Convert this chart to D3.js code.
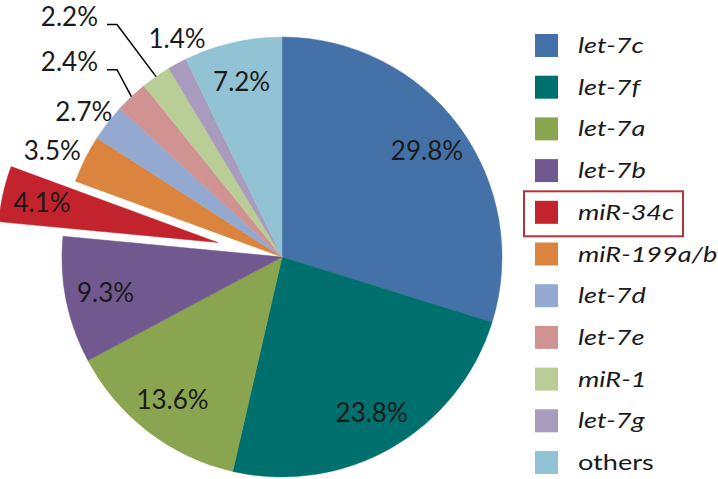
<!DOCTYPE html>
<html>
<head>
<meta charset="utf-8">
<script src="https://cdn.jsdelivr.net/npm/d3@7"></script>
<style>
  body { margin: 0; background: #fff; }
  svg { display: block; }
  text { font-family: Lato, "Open Sans", sans-serif; fill: #1a1a1a; }
</style>
</head>
<body>
<div id="chart"></div>
<script>
// miRNA shares (percent), clockwise from 12 o'clock
var categories = ["let-7c", "let-7f", "let-7a", "let-7b", "miR-34c", "miR-199a/b",
                  "let-7d", "let-7e", "miR-1", "let-7g", "others"];
var percents = [29.8, 23.8, 13.6, 9.3, 4.1, 3.5, 2.7, 2.4, 2.2, 1.4, 7.2];
var colors = ["#4472a8", "#00706f", "#8aa54f", "#71588f", "#c3232c", "#db843d",
              "#93a9cf", "#d19392", "#b9cd96", "#a99bbd", "#92c3d4"];
var exploded = "miR-34c";   // pulled-out slice, also boxed in the legend
var insideLabels = ["let-7c", "let-7f", "let-7a", "let-7b", "miR-34c", "others"];
var leaderLabels = ["let-7e", "miR-1"];

var width = 718, height = 479;
var cx = 282, cy = 257, R = 220;
var explodeBy = 66;

var data = categories.map(function(c, i){
    return {name: c, value: percents[i], color: colors[i]};
});

var svg = d3.select('#chart').append('svg')
    .attr('width', width)
    .attr('height', height);

var g = svg.append('g').attr('transform', 'translate(' + cx + ',' + cy + ')');

var pie = d3.pie().sort(null).value(d => d.value);
var arcs = pie(data);

var arc = d3.arc().innerRadius(0).outerRadius(R);
var labelArc = d3.arc().innerRadius(180).outerRadius(180);

function mid(d){ return (d.startAngle + d.endAngle) / 2; }
function shift(d){
    if(d.data.name != exploded) return [0, 0];
    var a = mid(d);
    return [explodeBy*Math.sin(a), -explodeBy*Math.cos(a)];
}

var slices = g.selectAll('.slice')
    .data(arcs)
    .enter()
    .append('g')
    .attr('class', 'slice')
    .attr('transform', d => 'translate(' + shift(d) + ')');

slices.append('path')
    .attr('d', arc)
    .style('fill', d => d.data.color)
    .style('stroke', d => d.data.color)
    .style('stroke-width', 0.5);

function fmt(v){ return v.toFixed(1) + '%'; }

// labels inside the slices
slices.filter(d => insideLabels.indexOf(d.data.name) >= 0)
    .append('text')
    .attr('transform', d => 'translate(' + labelArc.centroid(d) + ')')
    .attr('text-anchor', 'middle')
    .attr('dy', '0.36em')
    .style('font-size', '26px')
    .text(d => fmt(d.data.value));

// labels just outside the rim
var outside = arcs.filter(d => insideLabels.indexOf(d.data.name) < 0 && leaderLabels.indexOf(d.data.name) < 0);
outside.forEach(function(d){
    var a = mid(d);
    var ux = Math.sin(a), uy = -Math.cos(a);
    var t = g.append('text')
        .attr('text-anchor', 'middle')
        .attr('dy', '0.36em')
        .style('font-size', '26px')
        .text(fmt(d.data.value));
    var w = t.node().getComputedTextLength(), h = 20;
    var gap = d.data.name == "let-7g" ? 18 : 8;
    var x = (R + gap)*ux + ux*w/2;
    var y = (R + gap)*uy + uy*h/2;
    if(d.data.name == "let-7g") x += 22;
    if(d.data.name == "let-7d") x += 5;
    t.attr('x', x).attr('y', y);
});

// labels with leader lines, stacked in a column left of the pie
var rise = {"let-7e": 27, "miR-1": 52};
arcs.filter(d => leaderLabels.indexOf(d.data.name) >= 0).forEach(function(d){
    var a = mid(d);
    var px = R*Math.sin(a), py = -R*Math.cos(a);
    var ex = -165, ey = py - rise[d.data.name];
    g.append('polyline')
        .attr('points', [[px, py], [ex, ey], [ex - 10, ey]].join(' '))
        .style('fill', 'none')
        .style('stroke', '#000')
        .style('stroke-width', 1.5);
    g.append('text')
        .attr('x', ex - 19)
        .attr('y', ey - 8)
        .attr('text-anchor', 'end')
        .attr('dy', '0.36em')
        .style('font-size', '26px')
        .text(fmt(d.data.value));
});

// legend
var legendY = d3.scalePoint().domain(categories).range([45.5, 462.5]);
var legend = svg.append('g');

var rows = legend.selectAll('.row')
    .data(data)
    .enter()
    .append('g')
    .attr('class', 'row')
    .attr('transform', d => 'translate(535,' + legendY(d.name) + ')');

rows.append('rect')
    .attr('x', 0)
    .attr('y', -11.5)
    .attr('width', 23)
    .attr('height', 23)
    .style('fill', d => d.color);

// the source legend text is wide for its height, so stretch it a little
rows.append('text')
    .attr('transform', 'translate(43,0) scale(1.29,1)')
    .attr('dy', '0.36em')
    .style('font-size', '21px')
    .style('font-style', d => d.name == 'others' ? 'normal' : 'italic')
    .text(d => d.name);

legend.append('rect')
    .attr('x', 524)
    .attr('y', legendY(exploded) - 21)
    .attr('width', 159)
    .attr('height', 45)
    .style('fill', 'none')
    .style('stroke', '#b3343a')
    .style('stroke-width', 2);
</script>
</body>
</html>
